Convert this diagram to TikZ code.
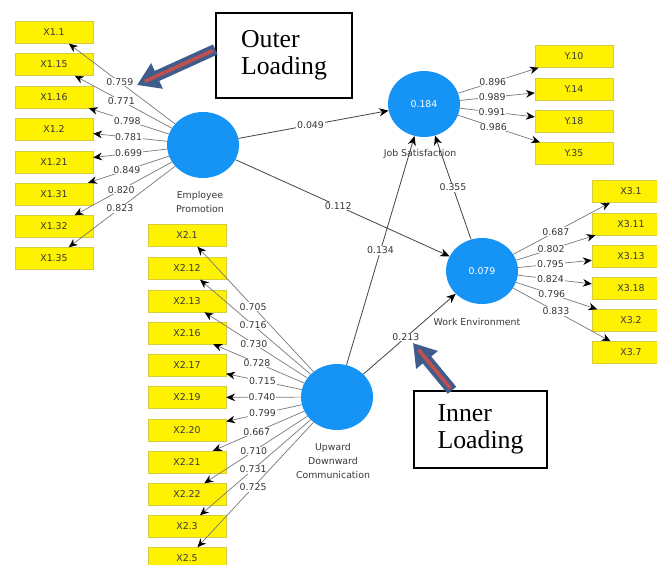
\documentclass[tikz,border=0pt]{standalone}
\usepackage{fontspec}
\setmainfont{DejaVu Sans}
\newfontfamily\calloutfont{Liberation Serif}
\usepackage{tikz}
\usetikzlibrary{arrows.meta}
\usetikzlibrary{shapes.geometric}

\definecolor{lvblue}{RGB}{22,148,245}
\definecolor{boxedge}{RGB}{215,205,60}
\definecolor{txtgray}{RGB}{55,55,55}
\definecolor{linegray}{RGB}{120,120,120}
\definecolor{pathgray}{RGB}{70,70,70}
\definecolor{calloutblue}{RGB}{62,92,140}
\definecolor{calloutred}{RGB}{192,80,77}

\tikzset{
  indicator/.style={draw=boxedge,fill=yellow,minimum width=2.34cm,minimum height=0.66cm,inner sep=0pt,text=txtgray,font=\fontsize{8}{9}\selectfont},
  construct/.style={ellipse,fill=lvblue,minimum width=2.16cm,minimum height=1.98cm,inner sep=0pt,text=white,font=\fontsize{8}{9}\selectfont},
  cname/.style={align=center,text=txtgray,font=\fontsize{8}{12}\selectfont},
  loading/.style={draw=linegray,line width=0.6pt,-{Stealth[black,length=7.5pt,width=6.5pt]}},
  coef/.style={draw=pathgray,line width=0.7pt,-{Stealth[black,length=8pt,width=7pt]}},
  lbl/.style={fill=white,inner sep=0.6pt,text=txtgray,font=\fontsize{8}{9}\selectfont},
  callout/.style={draw,line width=1.2pt,align=left,font=\calloutfont\fontsize{22}{23}\selectfont},
  bigarrow/.style={draw=calloutblue,line width=0.33cm,-{Triangle[length=0.66cm,width=0.8cm]}},
  bigstripe/.style={draw=calloutred,line width=0.11cm,shorten >=0.26cm,shorten <=0.08cm}
}

\begin{document}
\begin{tikzpicture}[x=0.03cm,y=-0.03cm]
  \clip (0,0) rectangle (657,564);
  % latent variables
  \node[construct] (ep) at (203,145) {};
  \node[construct] (udc) at (337,397) {};
  \node[construct] (js) at (424,104) {0.184};
  \node[construct] (we) at (482,271) {0.079};
  \node[cname] (epname) at (200,202) {Employee\\Promotion};
  \node[cname] (udcname) at (333,461) {Upward\\Downward\\Communication};
  \node[cname] (jsname) at (420,154) {Job Satisfaction};
  \node[cname] (wename) at (477,322) {Work Environment};

  % indicators of Employee Promotion
  \node[indicator] (x11) at (54,32.5) {X1.1};
  \node[indicator] (x115) at (54,64.5) {X1.15};
  \node[indicator] (x116) at (54,97) {X1.16};
  \node[indicator] (x12) at (54,129.5) {X1.2};
  \node[indicator] (x121) at (54,162) {X1.21};
  \node[indicator] (x131) at (54,194) {X1.31};
  \node[indicator] (x132) at (54,226.5) {X1.32};
  \node[indicator] (x135) at (54,258.5) {X1.35};
  \draw[loading] (ep) to node[lbl,pos=0.52] (l11) {0.759} (x11);
  \draw[loading] (ep) to node[lbl,pos=0.52] (l115) {0.771} (x115);
  \draw[loading] (ep) to node[lbl,pos=0.52] (l116) {0.798} (x116);
  \draw[loading] (ep) to node[lbl,pos=0.52] (l12) {0.781} (x12);
  \draw[loading] (ep) to node[lbl,pos=0.52] (l121) {0.699} (x121);
  \draw[loading] (ep) to node[lbl,pos=0.52] (l131) {0.849} (x131);
  \draw[loading] (ep) to node[lbl,pos=0.52] (l132) {0.820} (x132);
  \draw[loading] (ep) to node[lbl,pos=0.52] (l135) {0.823} (x135);

  % indicators of Upward Downward Communication
  \node[indicator] (x21) at (187,235.5) {X2.1};
  \node[indicator] (x212) at (187,268.5) {X2.12};
  \node[indicator] (x213) at (187,301) {X2.13};
  \node[indicator] (x216) at (187,333) {X2.16};
  \node[indicator] (x217) at (187,365.5) {X2.17};
  \node[indicator] (x219) at (187,397.5) {X2.19};
  \node[indicator] (x220) at (187,430) {X2.20};
  \node[indicator] (x221) at (187,462) {X2.21};
  \node[indicator] (x222) at (187,494.5) {X2.22};
  \node[indicator] (x23) at (187,526.5) {X2.3};
  \node[indicator] (x25) at (187,558.5) {X2.5};
  \draw[loading] (udc) to node[lbl,pos=0.52] (l21) {0.705} (x21);
  \draw[loading] (udc) to node[lbl,pos=0.52] (l212) {0.716} (x212);
  \draw[loading] (udc) to node[lbl,pos=0.52] (l213) {0.730} (x213);
  \draw[loading] (udc) to node[lbl,pos=0.52] (l216) {0.728} (x216);
  \draw[loading] (udc) to node[lbl,pos=0.52] (l217) {0.715} (x217);
  \draw[loading] (udc) to node[lbl,pos=0.52] (l219) {0.740} (x219);
  \draw[loading] (udc) to node[lbl,pos=0.52] (l220) {0.799} (x220);
  \draw[loading] (udc) to node[lbl,pos=0.52] (l221) {0.667} (x221);
  \draw[loading] (udc) to node[lbl,pos=0.52] (l222) {0.710} (x222);
  \draw[loading] (udc) to node[lbl,pos=0.52] (l23) {0.731} (x23);
  \draw[loading] (udc) to node[lbl,pos=0.52] (l25) {0.725} (x25);

  % indicators of Job Satisfaction
  \node[indicator] (y10) at (574,56.5) {Y.10};
  \node[indicator] (y14) at (574,89) {Y.14};
  \node[indicator] (y18) at (574,121.5) {Y.18};
  \node[indicator] (y35) at (574,153.5) {Y.35};
  \draw[loading] (js) to node[lbl,pos=0.43] (ly10) {0.896} (y10);
  \draw[loading] (js) to node[lbl,pos=0.43] (ly14) {0.989} (y14);
  \draw[loading] (js) to node[lbl,pos=0.43] (ly18) {0.991} (y18);
  \draw[loading] (js) to node[lbl,pos=0.43] (ly35) {0.986} (y35);

  % indicators of Work Environment
  \node[indicator] (x31) at (631,191.5) {X3.1};
  \node[indicator] (x311) at (631,224) {X3.11};
  \node[indicator] (x313) at (631,256.5) {X3.13};
  \node[indicator] (x318) at (631,288.5) {X3.18};
  \node[indicator] (x32) at (631,320.5) {X3.2};
  \node[indicator] (x37) at (631,352.5) {X3.7};
  \draw[loading] (we) to node[lbl,pos=0.44] (l31) {0.687} (x31);
  \draw[loading] (we) to node[lbl,pos=0.44] (l311) {0.802} (x311);
  \draw[loading] (we) to node[lbl,pos=0.44] (l313) {0.795} (x313);
  \draw[loading] (we) to node[lbl,pos=0.44] (l318) {0.824} (x318);
  \draw[loading] (we) to node[lbl,pos=0.44] (l32) {0.796} (x32);
  \draw[loading] (we) to node[lbl,pos=0.44] (l37) {0.833} (x37);

  % structural paths
  \draw[coef] (ep) to node[lbl,pos=0.48] (pepjs) {0.049} (js);
  \draw[coef] (ep) to node[lbl,pos=0.48] (pepwe) {0.112} (we);
  \draw[coef] (udc) to node[lbl,pos=0.5] (pudcjs) {0.134} (js);
  \draw[coef] (we) to node[lbl,pos=0.5] (pwejs) {0.355} (js);
  \draw[coef] (udc) to node[lbl,pos=0.46] (pudcwe) {0.213} (we);

  % callouts
  \node[callout,minimum width=4.08cm,minimum height=2.55cm] (outer) at (284,55.5) {Outer\\Loading};
  \node[callout,minimum width=3.99cm,minimum height=2.31cm] (inner) at (480.5,429.5) {Inner\\Loading};
  \coordinate (otip) at (137,85);
  \coordinate (itip) at (413,343);
  \draw[bigarrow] (outer.175) -- (otip);
  \draw[bigstripe] (outer.175) -- (otip);
  \draw[bigarrow] (inner.126) -- (itip);
  \draw[bigstripe] (inner.126) -- (itip);
\end{tikzpicture}
\end{document}
